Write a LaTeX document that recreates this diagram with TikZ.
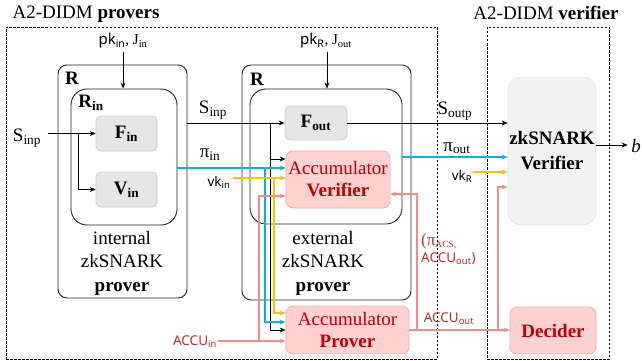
\documentclass[tikz,border=0pt]{standalone}
\usepackage{fontspec}
\setmainfont{Liberation Serif}
\newfontfamily\sansf{Noto Sans}
\usetikzlibrary{arrows.meta}
\definecolor{skyb}{RGB}{0,176,240}
\definecolor{gold}{RGB}{255,192,0}
\definecolor{pinkl}{RGB}{244,140,140}
\definecolor{pinkfill}{RGB}{255,210,210}
\definecolor{pinkdraw}{RGB}{244,170,170}
\definecolor{darkred}{RGB}{192,0,0}
\definecolor{labred}{RGB}{200,40,40}
\definecolor{gfill}{RGB}{230,230,230}
\definecolor{gdraw}{RGB}{205,205,205}
\definecolor{vfill}{RGB}{242,242,242}
\definecolor{vdraw}{RGB}{228,228,228}
\tikzset{
  big/.style={font=\fontsize{19}{22}\selectfont},
  mid/.style={font=\fontsize{15}{18}\selectfont},
  sml/.style={font=\sansf\fontsize{13.5}{16}\selectfont},
  outer/.style={draw=black!85, line width=0.9pt, inner sep=0pt},
  dbox/.style={draw=black, dash pattern=on 2.5pt off 1.5pt, line width=0.7pt, inner sep=0pt},
  fbox/.style={draw=gdraw, fill=gfill, rounded corners=5pt, line width=0.8pt, inner sep=0pt, big},
  pbox/.style={draw=pinkdraw, fill=pinkfill, rounded corners=7pt, line width=0.8pt, inner sep=0pt, big, text=darkred, align=center},
  arr/.style={-{Stealth[length=6pt,width=5pt]}, line width=0.9pt},
  bln/.style={arr, draw=skyb, line width=1.1pt},
  yln/.style={arr, draw=gold, line width=1.1pt},
  pln/.style={arr, draw=pinkl, line width=1.1pt},
}
\begin{document}
\begin{tikzpicture}[x=1pt,y=-1pt]
\useasboundingbox (0,0) rectangle (642,361);
% titles
\node[big] (tp) at (86,14) {A2-DIDM \textbf{provers}};
\node[big] (tv) at (546,13) {A2-DIDM \textbf{verifier}};
% dashed frames
\node[dbox, minimum width=431pt, minimum height=332pt] (prov) at (221.5,193) {};
\node[dbox, minimum width=122pt, minimum height=332pt] (verf) at (548,193) {};
% left R
\node[outer, rounded corners=9pt, minimum width=129pt, minimum height=233pt] (rl) at (122.5,181.5) {};
\node[outer, rounded corners=16pt, minimum width=106pt, minimum height=136pt] (rin) at (124,157) {};
\node[big, font=\fontsize{19}{22}\selectfont\bfseries] (rlab) at (72,78) {R};
\node[big, font=\fontsize{19}{22}\selectfont\bfseries] (rinlab) at (91,103) {R\textsubscript{in}};
\node[fbox, minimum width=61pt, minimum height=35pt] (fin) at (126.5,133.5) {\textbf{F\textsubscript{in}}};
\node[fbox, minimum width=61pt, minimum height=35pt] (vin) at (126.5,189.5) {\textbf{V\textsubscript{in}}};
\node[big, align=center, font=\fontsize{19}{23.5}\selectfont] (intl) at (122,263) {internal\\zkSNARK\\\textbf{prover}};
% right R
\node[outer, rounded corners=9pt, minimum width=169pt, minimum height=235pt] (rr) at (326.5,182.5) {};
\node[outer, rounded corners=16pt, minimum width=152pt, minimum height=135pt] (rout) at (326,156.5) {};
\node[big, font=\fontsize{19}{22}\selectfont\bfseries] (rrlab) at (257,79) {R};
\node[fbox, minimum width=62pt, minimum height=34pt] (fout) at (316,123) {\textbf{F\textsubscript{out}}};
\node[pbox, minimum width=104pt, minimum height=57pt] (accv) at (338,179.5) {Accumulator\\\textbf{Verifier}};
\node[big, align=center, font=\fontsize{19}{23.5}\selectfont] (extl) at (323,263) {external\\zkSNARK\\\textbf{prover}};
\node[pbox, minimum width=123pt, minimum height=48pt] (accp) at (347.5,330) {Accumulator\\\textbf{Prover}};
% verifier side
\node[draw=vdraw, fill=vfill, rounded corners=13pt, line width=0.8pt, minimum width=88pt, minimum height=148pt, inner sep=0pt, align=center, font=\fontsize{19}{25}\selectfont\bfseries] (zkv) at (552,151) {zkSNARK\\Verifier};
\node[pbox, minimum width=86pt, minimum height=47pt, font=\fontsize{19}{22}\selectfont\bfseries] (dec) at (553,330.5) {Decider};
% labels
\node[mid] (pkin) at (123,41) {{\sansf pk\textsubscript{in}}, J\textsubscript{in}};
\node[mid] (pkr) at (326,41) {{\sansf pk\textsubscript{\textbf{R}}}, J\textsubscript{out}};
\node[big] (sinl) at (27,138) {S\textsubscript{inp}};
\node[big] (sinm) at (213,110) {S\textsubscript{inp}};
\node[big] (piin) at (210,155) {π\textsubscript{in}};
\node[sml] (vkin) at (219,182) {vk\textsubscript{in}};
\node[big] (sout) at (455,111) {S\textsubscript{outp}};
\node[big] (piout) at (457,148) {π\textsubscript{out}};
\node[sml] (vkr) at (462,176) {vk\textsubscript{\textbf{R}}};
\node[big, font=\fontsize{19}{22}\selectfont\itshape] (bout) at (636,146) {b};
\node[sml, text=labred] (accin) at (195,342) {ACCU\textsubscript{in}};
\node[sml, text=labred] (accout) at (449,319) {ACCU\textsubscript{out}};
\node[sml, text=labred, align=left, anchor=west, inner sep=0pt, font=\sansf\fontsize{13.5}{17}\selectfont] (pacs) at (421,249) {{\fontsize{17}{17}\rmfamily(π}{\rmfamily\textsubscript{ACS,}}\\ACCU\textsubscript{out})};
% coordinates
\coordinate (c1) at (48,133.5);
\coordinate (c2) at (78,133.5);
\coordinate (bk) at (270,123);
\coordinate (bk2) at (270,159);
\coordinate (bl0) at (177,168);
\coordinate (bl1) at (265,168);
\coordinate (yl0) at (233,178);
\coordinate (yl1) at (274,178);
\coordinate (pi0) at (218,341);
\coordinate (pi1) at (259,341);
\coordinate (pi2) at (259,196);
\coordinate (po) at (402,157);
\coordinate (vr) at (473,172);
\coordinate (pv1) at (417,330);
\coordinate (pv2) at (498,330);
% black connectors
\draw[arr] (pkin.south) -- (pkin.south |- rin.north);
\draw[arr] ([xshift=1pt]pkr.south) -- ([xshift=1pt]pkr.south |- rout.north);
\draw[arr] (c1) -- (fin.west);
\draw[arr] (c2) |- (vin.west);
\draw[arr] (rl.east |- fout.west) -- (fout.west);
\draw[arr] (bk) |- (accp.west);
\draw[arr] (bk2) -- (bk2 -| accv.west);
\draw[arr] (fout.east) -- (fout.east -| zkv.west);
\draw[arr] (zkv.east |- 0,145) -- (bout.west |- 0,145);
% blue
\draw[bln] (bl0) -- (bl0 -| accv.west);
\draw[bln] (bl1) |- ([yshift=8pt]accp.west);
\draw[bln] (po) -- (po -| zkv.west);
% yellow
\draw[yln] (yl0) -- (yl0 -| accv.west);
\draw[yln] (yl1) |- ([yshift=17pt]accp.west);
\draw[yln] (vr) -- (vr -| zkv.west);
% pink
\draw[pln] (pi0) -- (pi0 -| accp.west);
\draw[pln] (pi1) -- (pi2) -- (pi2 -| accv.west);
\draw[pln] (accp.east) -- (accp.east -| dec.west);
\draw[pln] (pv1) |- ([yshift=-14.5pt]accv.east);
\draw[pln] (pv2) |- ([yshift=-36pt]zkv.west);
\end{tikzpicture}
\end{document}
